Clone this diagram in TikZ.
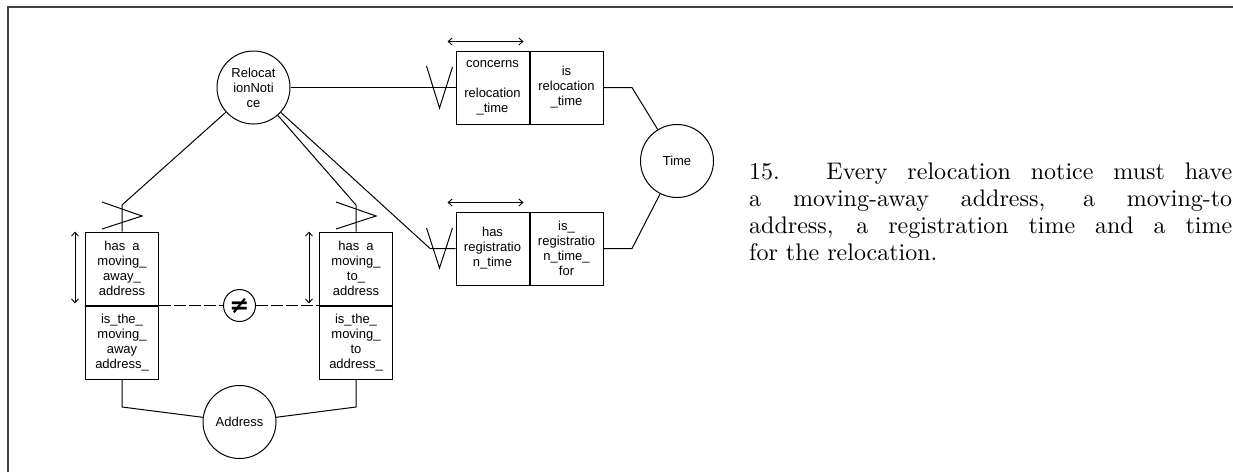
\documentclass[tikz,border=0pt]{standalone}
\usepackage{amsmath}
\usepackage{fontspec}
\setsansfont{Liberation Sans}
\newfontfamily\txtfont[Extension=.otf]{lmroman10-regular}
\newfontfamily\symfont{DejaVu Sans}
\usetikzlibrary{arrows.meta,positioning,calc}

\begin{document}
\begin{tikzpicture}[x=1pt,y=-1pt,
  obj/.style={draw,circle,line width=1pt,minimum size=73pt,inner sep=0pt,align=center,
    font=\sffamily\fontsize{13}{15}\selectfont},
  role/.style={draw,line width=1pt,minimum width=73pt,minimum height=73pt,inner sep=0pt,
    align=center,font=\sffamily\fontsize{13}{15}\selectfont},
  ln/.style={line width=1pt},
  dbl/.style={{Straight Barb[length=4pt,width=7pt]}-{Straight Barb[length=4pt,width=7pt]},line width=0.9pt}]
\useasboundingbox (0,0) rectangle (1233,472);
\draw[line width=1.2pt,black!75] (8,472) -- (8,7) -- (1233,7);

% object types
\node[obj] (RN) at (253.5,87.5) {Relocat\\ionNoti\\ce};
\node[obj] (Ti) at (677,161) {Time};
\node[obj] (Ad) at (239.5,422) {Address};

% fact types
\node[role] (aw1) at (122,268.5) {has\ \ a\\moving\_\\away\_\\address};
\node[role,below=0pt of aw1] (aw2) {is\_the\_\\moving\_\\away\\address\_};
\node[role] (to1) at (356,268.5) {has\ \ a\\moving\_\\to\_\\address};
\node[role,below=0pt of to1] (to2) {is\_the\_\\moving\_\\to\\address\_};
\node[role] (rt1) at (492.5,87.5) {concerns\\[15pt]relocation\\\_time};
\node[role,right=0pt of rt1] (rt2) {is\\relocation\\\_time};
\node[role] (rg1) at (492.5,248.5) {has\\registratio\\n\_time};
\node[role,right=0pt of rg1] (rg2) {is\_\\registratio\\n\_time\_\\for};

\node[draw,circle,line width=1pt,minimum size=32pt,inner sep=0pt,font=\symfont\bfseries\fontsize{24}{24}\selectfont]
  (ne) at (239.5,305.5) {≠};

\coordinate (kaw) at (122,205);
\coordinate (kto) at (356,205);
\coordinate (krg) at (430,248.5);
\coordinate (kt1) at (632,87.5);
\coordinate (kt2) at (632,248.5);
\coordinate (kad1) at (122,407);
\coordinate (kad2) at (356,407);

% connectors
\draw[ln] (RN) -- (kaw) -- (aw1.north);
\draw[ln] (RN) -- (kto) -- (to1.north);
\draw[ln] (RN) -- (rt1.west);
\draw[ln] (RN) -- (krg) -- (rg1.west);
\draw[ln] (rt2.east) -- (kt1) -- (Ti);
\draw[ln] (rg2.east) -- (kt2) -- (Ti);
\draw[ln] (aw2.south) -- (kad1) -- (Ad);
\draw[ln] (to2.south) -- (kad2) -- (Ad);
\draw[line width=0.8pt,dash pattern=on 12pt off 3pt] (aw1.south east) -- (ne) -- (to1.south west);

% mandatory marks
\draw[ln] ($(kaw)+(-20,-3)$) -- ++(40,14) -- ++(-40,13);
\draw[ln] ($(kto)+(-20,-3)$) -- ++(40,14) -- ++(-40,13);
\draw[ln] ($(rt1.west)+(-29,-21.5)$) -- ++(13,42) -- ++(13,-41);
\draw[ln] ($(rg1.west)+(-29,-20.5)$) -- ++(13,40) -- ++(13,-40);

% uniqueness
\draw[dbl] ([xshift=-10pt]aw1.north west) -- ([shift={(-10pt,2pt)}]aw1.south west);
\draw[dbl] ([xshift=-10pt]to1.north west) -- ([shift={(-10pt,2pt)}]to1.south west);
\draw[dbl] ([shift={(-8pt,9pt)}]rt1.north west) -- ([shift={(-6pt,9pt)}]rt1.north east);
\draw[dbl] ([shift={(-8pt,9pt)}]rg1.north west) -- ([shift={(-6pt,9pt)}]rg1.north east);

\node[anchor=base west,inner sep=0pt] (txt) at (749,179)
  {\parbox[t]{483pt}{\txtfont\fontsize{24}{27}\selectfont
   15. Every relocation notice must have\linebreak
   a moving-away address, a moving-to\linebreak
   address, a registration time and a time\linebreak
   for the relocation.}};
\end{tikzpicture}
\end{document}
